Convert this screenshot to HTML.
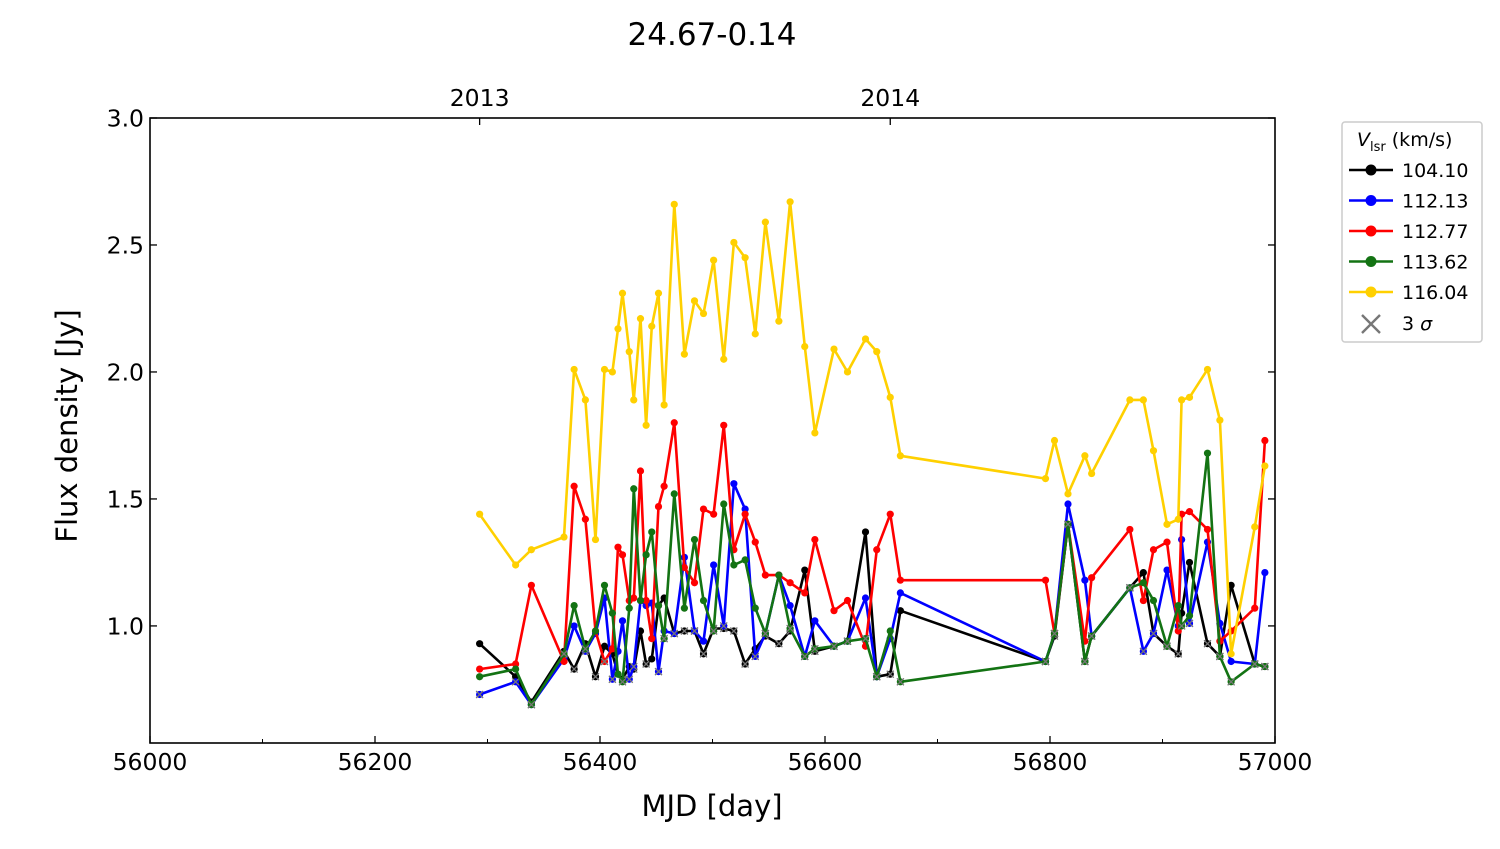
<!DOCTYPE html>
<html><head><meta charset="utf-8"><style>
body{margin:0;background:#fff;}
svg text{font-family:"DejaVu Sans","Liberation Sans",sans-serif;fill:#000;}
</style></head><body>
<svg id="chart" width="1500" height="844" viewBox="0 0 1500 844" xmlns="http://www.w3.org/2000/svg">
<text x="712" y="45" font-size="31" text-anchor="middle">24.67-0.14</text>
<g id="plot"></g>
<text x="712" y="816" font-size="29" text-anchor="middle">MJD [day]</text>
<text transform="translate(77,426) rotate(-90)" font-size="29" text-anchor="middle">Flux density [Jy]</text>
<g>
<rect x="1342" y="122" width="140" height="220" rx="3" fill="#fff" stroke="#ccc" stroke-width="1.5"/>
<text x="1357" y="146" font-size="19"><tspan font-style="italic">V</tspan><tspan font-size="13" dy="5">lsr</tspan><tspan dy="-5"> (km/s)</tspan></text>
<g id="legend-entries"></g>
</g>
</svg>
<script>
const dates=[56293,56325,56339,56368,56377,56387,56396,56404,56411,56416,56420,56426,56430,56436,56441,56446,56452,56457,56466,56475,56484,56492,56501,56510,56519,56529,56538,56547,56559,56569,56582,56591,56608,56620,56636,56646,56658,56667,56796,56804,56816,56831,56837,56871,56883,56892,56904,56914,56917,56924,56940,56951,56961,56982,56991];
const black=[0.93,0.80,0.70,0.90,0.83,0.93,0.80,0.92,0.89,0.81,0.79,0.84,0.83,0.98,0.85,0.87,1.08,1.11,0.97,0.98,0.98,0.89,0.99,0.99,0.98,0.85,0.91,0.96,0.93,0.98,1.22,0.90,0.92,0.94,1.37,0.80,0.81,1.06,0.86,0.96,1.40,0.86,0.96,1.15,1.21,0.97,0.92,0.89,1.05,1.25,0.93,0.88,1.16,0.85,0.84];
const blue=[0.73,0.78,0.69,0.87,1.00,0.90,0.97,1.11,0.79,0.90,1.02,0.79,0.84,1.10,1.08,1.09,0.82,0.98,0.97,1.27,0.98,0.94,1.24,1.00,1.56,1.46,0.88,0.97,1.20,1.08,0.88,1.02,0.92,0.94,1.11,0.80,0.95,1.13,0.86,0.97,1.48,1.18,0.96,1.15,0.90,0.97,1.22,1.00,1.34,1.01,1.33,1.01,0.86,0.85,1.21];
const red=[0.83,0.85,1.16,0.86,1.55,1.42,0.98,0.86,0.91,1.31,1.28,1.10,1.11,1.61,1.10,0.95,1.47,1.55,1.80,1.23,1.17,1.46,1.44,1.79,1.30,1.44,1.33,1.20,1.20,1.17,1.13,1.34,1.06,1.10,0.92,1.30,1.44,1.18,1.18,0.97,1.40,0.94,1.19,1.38,1.10,1.30,1.33,0.98,1.44,1.45,1.38,0.94,0.98,1.07,1.73];
const green=[0.80,0.83,0.69,0.89,1.08,0.91,0.98,1.16,1.05,0.81,0.78,1.07,1.54,1.10,1.28,1.37,1.08,0.95,1.52,1.07,1.34,1.10,0.98,1.48,1.24,1.26,1.07,0.97,1.20,0.99,0.88,0.91,0.92,0.94,0.95,0.80,0.98,0.78,0.86,0.97,1.40,0.86,0.96,1.15,1.17,1.10,0.92,1.08,1.00,1.04,1.68,0.88,0.78,0.85,0.84];
const yellow=[1.44,1.24,1.30,1.35,2.01,1.89,1.34,2.01,2.00,2.17,2.31,2.08,1.89,2.21,1.79,2.18,2.31,1.87,2.66,2.07,2.28,2.23,2.44,2.05,2.51,2.45,2.15,2.59,2.20,2.67,2.10,1.76,2.09,2.00,2.13,2.08,1.90,1.67,1.58,1.73,1.52,1.67,1.60,1.89,1.89,1.69,1.40,1.42,1.89,1.90,2.01,1.81,0.89,1.39,1.63];
const sigma3=[0.73,0.78,0.70,0.88,0.84,0.90,0.81,0.86,0.80,0.79,0.79,0.80,0.84,0.84,0.86,0.83,0.82,0.95,0.97,0.98,0.98,0.90,0.98,1.00,0.98,0.86,0.89,0.97,0.93,0.98,0.88,0.91,0.92,0.94,0.95,0.80,0.82,0.79,0.86,0.97,1.40,0.86,0.96,1.15,0.90,0.97,0.92,0.90,1.00,1.01,0.93,0.88,0.78,0.85,0.84];
const seriesNames=["104.10","112.13","112.77","113.62","116.04"];
const seriesColors=["#000000","#0000ff","#ff0000","#137313","#ffd000"];
const seriesData=[black,blue,red,green,yellow];
const xTicks=[56000,56200,56400,56600,56800,57000];
const xMinor=[56100,56300,56500,56700,56900];
const yTicks=[1.0,1.5,2.0,2.5,3.0];
const yearLabels=["2013","2014"];
const yearMjd=[56293,56658];

const NS="http://www.w3.org/2000/svg";
const L=150,R=1275,T=118,B=743,X0=56000,X1=57000,Y0=0.539,Y1=3.0;
const sx=v=>L+(v-X0)/(X1-X0)*(R-L);
const sy=v=>B-(v-Y0)/(Y1-Y0)*(B-T);
const plot=document.getElementById('plot');
function mk(tag,attrs,parent){const e=document.createElementNS(NS,tag);for(const k in attrs)e.setAttribute(k,attrs[k]);(parent||plot).appendChild(e);return e;}

seriesData.forEach((arr,si)=>{
  const g=mk('g',{});
  
  
  const pts=arr.map((v,i)=>sx(dates[i]).toFixed(1)+','+sy(v).toFixed(1)).join(' ');
  const pl=mk('polyline',{points:pts,fill:'none',stroke:seriesColors[si],'stroke-width':2.6,'stroke-linejoin':'round'},g);
  
  
  arr.forEach((v,i)=>{
    const c=mk('circle',{cx:sx(dates[i]),cy:sy(v),r:3.6,fill:seriesColors[si]},g);
    
    
    if(si<4 && Math.abs(v-sigma3[i])<0.015){
      const x=sx(dates[i]),y=sy(v),d=3.5;
      const m=mk('path',{d:`M${x-d},${y-d}L${x+d},${y+d}M${x-d},${y+d}L${x+d},${y-d}`,stroke:'#777','stroke-width':1.3},g);
      
      
    }
  });
});

const fr=mk('rect',{x:L,y:T,width:R-L,height:B-T,fill:'none',stroke:'#000','stroke-width':1.6});


xTicks.forEach(t=>{
  const x=sx(t);
  mk('line',{x1:x,x2:x,y1:B,y2:B-7,stroke:'#000','stroke-width':1.3});
  const tx=mk('text',{x:x,y:B+27,'font-size':23.5,'text-anchor':'middle'});
  tx.textContent=t;
  
  
});
xMinor.forEach(t=>{const x=sx(t);mk('line',{x1:x,x2:x,y1:B,y2:B-4,stroke:'#000','stroke-width':1});});
yTicks.forEach(t=>{
  const y=sy(t);
  mk('line',{x1:L,x2:L+7,y1:y,y2:y,stroke:'#000','stroke-width':1.3});
  mk('line',{x1:R,x2:R-7,y1:y,y2:y,stroke:'#000','stroke-width':1.3});
  const tx=mk('text',{x:L-6,y:y+8.5,'font-size':23.5,'text-anchor':'end'});
  tx.textContent=t.toFixed(1);
  
  
});
yearMjd.forEach((m,i)=>{
  const x=sx(m);
  mk('line',{x1:x,x2:x,y1:T,y2:T+7,stroke:'#000','stroke-width':1.3});
  const tx=mk('text',{x:x,y:T-12,'font-size':23.5,'text-anchor':'middle'});
  tx.textContent=yearLabels[i];
  
  
});

const le=document.getElementById('legend-entries');
seriesNames.forEach((n,i)=>{
  const y=170+i*30.5;
  const g=mk('g',{},le);
  
  
  mk('line',{x1:1349,x2:1393,y1:y,y2:y,stroke:seriesColors[i],'stroke-width':2.6},g);
  mk('circle',{cx:1371,cy:y,r:5.5,fill:seriesColors[i]},g);
  const t=mk('text',{x:1402,y:y+7,'font-size':19},g);
  t.textContent=n;
});
const sg=mk('g',{},le);


mk('path',{d:'M1362,315L1380,333M1362,333L1380,315',stroke:'#777','stroke-width':2.4},sg);
const st=mk('text',{x:1402,y:330,'font-size':19},sg);
st.innerHTML='3 <tspan font-style="italic">σ</tspan>';
</script>
</body></html>
